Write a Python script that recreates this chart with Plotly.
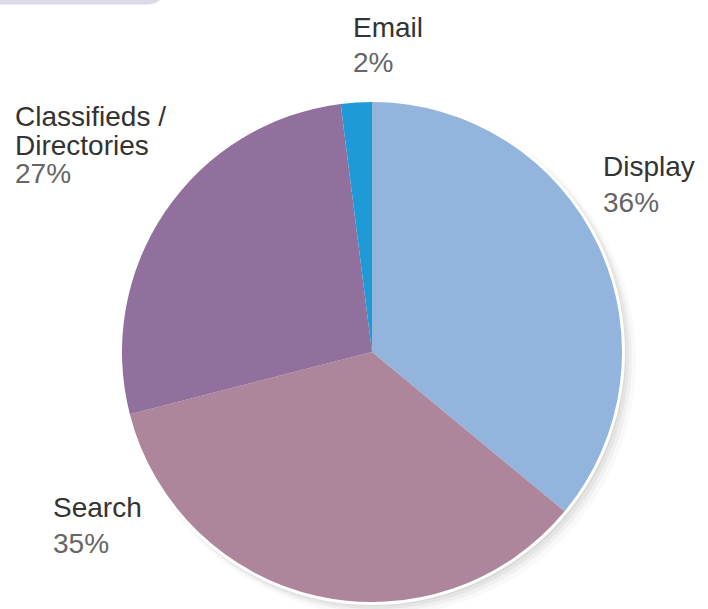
import plotly.graph_objects as go

labels = ["Display", "Search", "Classifieds / Directories", "Email"]
values = [36, 35, 27, 2]
colors = ["#93B5DD", "#AD869B", "#92709D", "#1E9BD7"]
pct_text = ["36%", "35%", "27%", "2%"]

W, H = 708, 609
cx, cy, r = 372, 352, 250

def px(x):
    return x / W

def py(y):
    return 1 - y / H

fig = go.Figure()
fig.add_trace(go.Pie(
    labels=labels, values=values, sort=False, direction="clockwise", rotation=0,
    marker=dict(colors=colors, line=dict(width=0)),
    textinfo="none", hoverinfo="label+percent", showlegend=False,
    domain=dict(x=[px(cx - r), px(cx + r)], y=[py(cy + r), py(cy - r)]),
))

shapes = []
# soft shadow
for off, extra, op in [(8, 6, 0.025), (6, 4, 0.035), (4, 3, 0.045), (2, 2, 0.05)]:
    rr = r + extra
    shapes.append(dict(type="circle", xref="paper", yref="paper", layer="below",
                       x0=px(cx - rr + off), x1=px(cx + rr + off),
                       y0=py(cy + rr + off), y1=py(cy - rr + off),
                       fillcolor=f"rgba(0,0,0,{op})", line=dict(width=0)))
# white rim
rr = r + 3
shapes.append(dict(type="circle", xref="paper", yref="paper", layer="below",
                   x0=px(cx - rr), x1=px(cx + rr), y0=py(cy + rr), y1=py(cy - rr),
                   fillcolor="white", line=dict(width=0)))
# top-left bar
shapes.append(dict(type="path", xref="paper", yref="paper", layer="below",
                   path=f"M 0 1 L {px(160)} 1 Q {px(156)} {py(4)} {px(148)} {py(4.5)} L 0 {py(4.5)} Z",
                   fillcolor="#DCDAE9", line=dict(width=0)))

font_lab = dict(family="Liberation Sans, Arial, sans-serif", size=28, color="#333333")
font_pct = dict(family="Liberation Sans, Arial, sans-serif", size=28, color="#666666")

annots = []
def add(text, x, y, font):
    annots.append(dict(text=text, x=px(x), y=py(y), xref="paper", yref="paper",
                       xanchor="left", yanchor="middle", showarrow=False, font=font,
                       align="left", xshift=-2))

# Display
add(labels[0], 603, 166, font_lab)
add(pct_text[0], 603, 203, font_pct)
# Search
add(labels[1], 53, 507, font_lab)
add(pct_text[1], 53, 543, font_pct)
# Classifieds
add("Classifieds /", 15, 116, font_lab)
add("Directories", 15, 145, font_lab)
add(pct_text[2], 15, 173, font_pct)
# Email
add(labels[3], 353, 27, font_lab)
add(pct_text[3], 353, 63, font_pct)

fig.update_layout(width=W, height=H, margin=dict(l=0, r=0, t=0, b=0),
                  paper_bgcolor="white", plot_bgcolor="white",
                  shapes=shapes, annotations=annots)
fig.write_html("out.html")
